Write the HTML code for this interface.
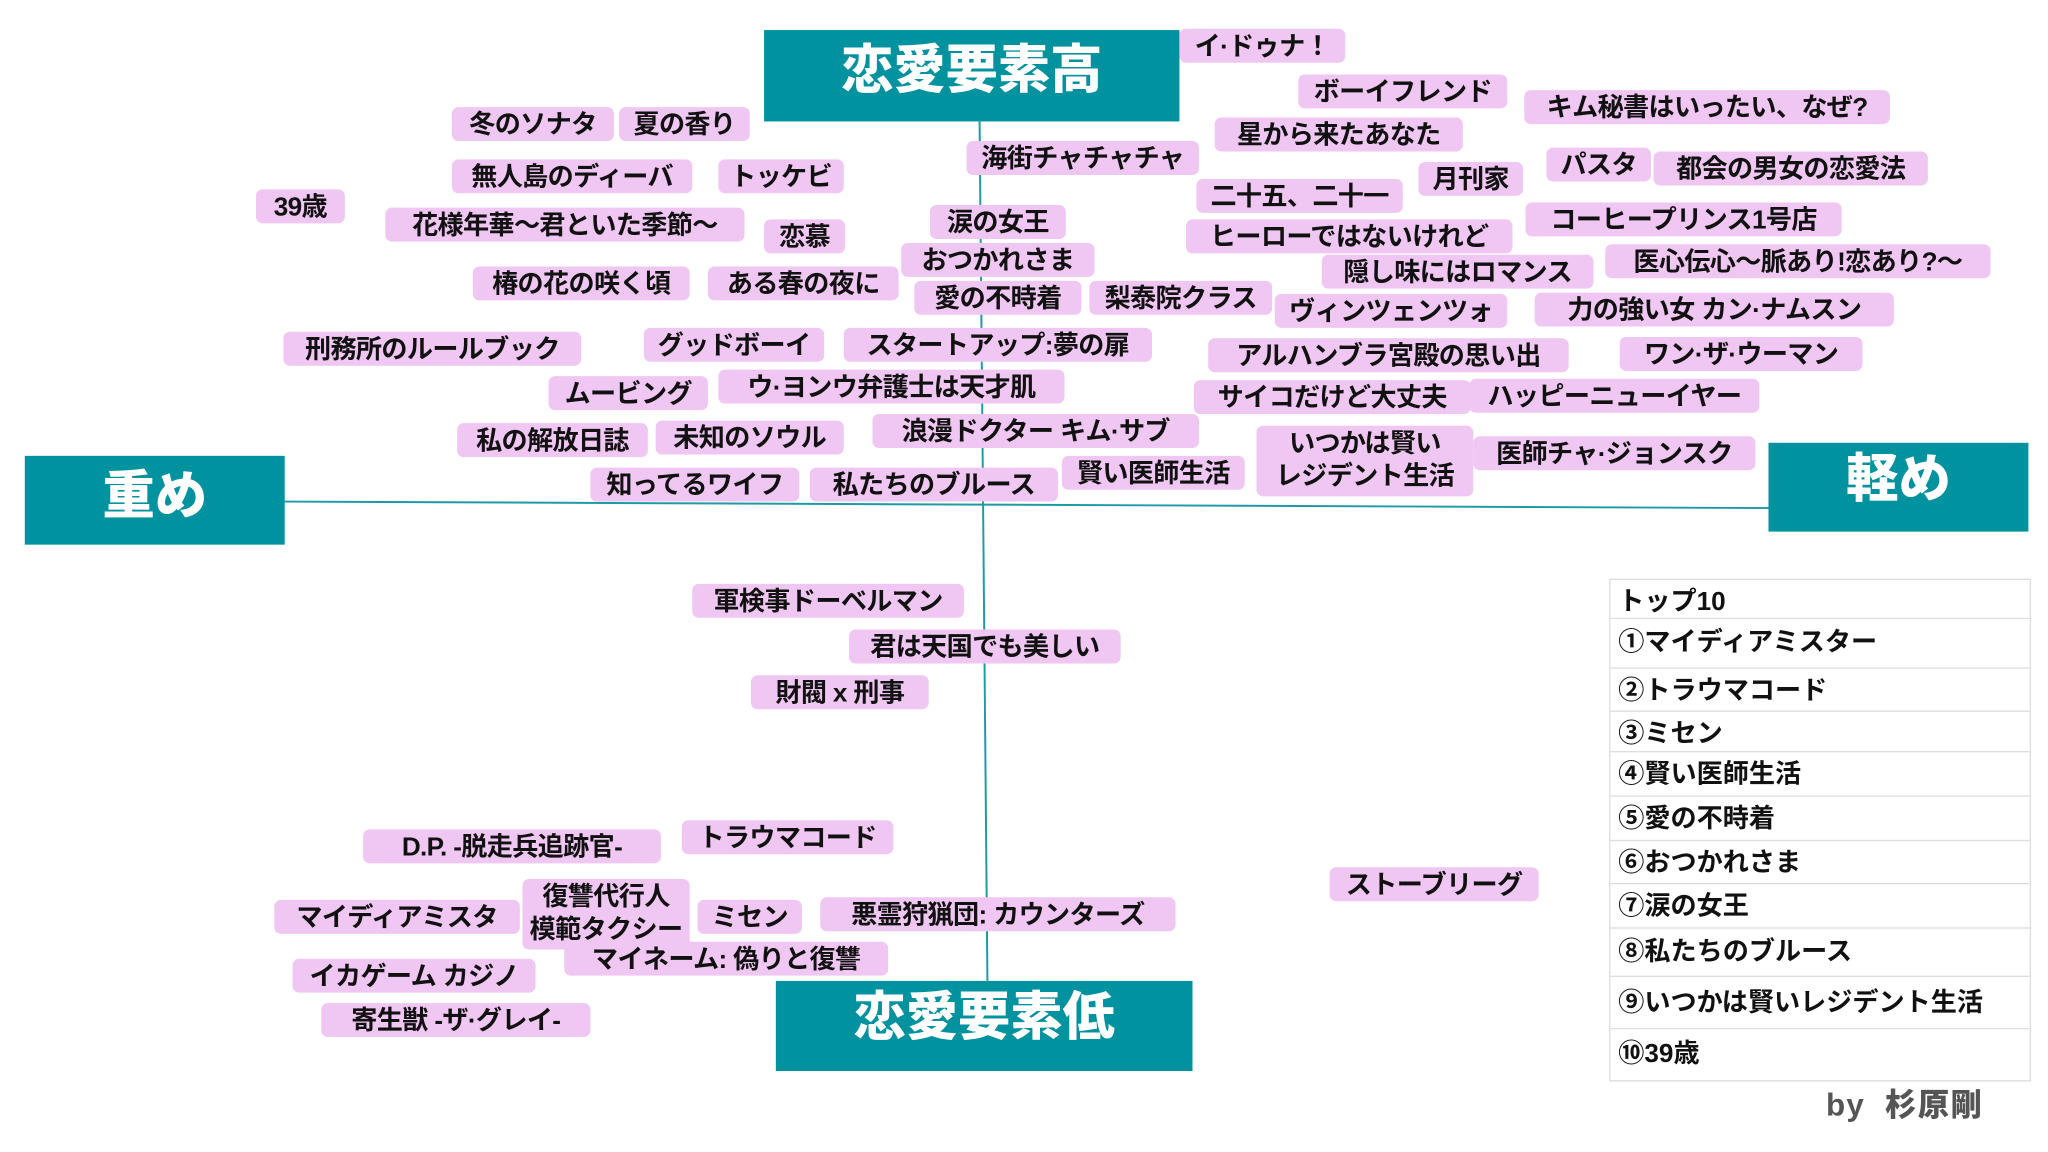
<!DOCTYPE html>
<html><head><meta charset="utf-8">
<style>
html,body{margin:0;padding:0;background:#fff;}
body{width:2048px;height:1152px;overflow:hidden;position:relative;}
#c{position:absolute;left:0;top:0;width:1568px;height:882px;transform:scale(1.30612);transform-origin:0 0;font-family:"Liberation Sans","Noto Sans CJK JP",sans-serif;font-weight:bold;}
.p{position:absolute;height:26px;line-height:28px;background:#f0c6f2;border-radius:5px;text-align:center;white-space:nowrap;font-size:20px;color:#111;letter-spacing:-0.5px;}
.p2{height:54px;line-height:25px;padding-top:2px;box-sizing:border-box;}
.t{position:absolute;background:#00929e;color:#fff;text-align:center;font-size:40px;font-weight:900;}
#tb{position:absolute;left:1232px;top:443px;width:323px;border:1px solid #ddd;box-sizing:border-box;}
#tb div{border-bottom:1px solid #ddd;font-size:20px;padding-left:6px;box-sizing:border-box;color:#111;white-space:nowrap;}
#tb div:last-child{border-bottom:none;}
</style></head><body><div id="c">
<svg width="1568" height="882" style="position:absolute;left:0;top:0">
<line x1="750" y1="93" x2="756" y2="751" stroke="#1d9aa6" stroke-width="1.5"/>
<line x1="218" y1="384" x2="1354" y2="389" stroke="#1d9aa6" stroke-width="1.5"/>
</svg>
<div class="t" style="left:585px;top:23px;width:318px;height:70px;line-height:62px;">恋愛要素高</div>
<div class="t" style="left:19px;top:349px;width:199px;height:68px;line-height:62px;">重め</div>
<div class="t" style="left:1354px;top:339px;width:199px;height:68px;line-height:56px;">軽め</div>
<div class="t" style="left:594px;top:751px;width:319px;height:69px;line-height:56px;">恋愛要素低</div>

<div class="p" style="left:903px;top:22px;width:127px">イ·ドゥナ！</div>
<div class="p" style="left:994px;top:57px;width:160px">ボーイフレンド</div>
<div class="p" style="left:1167px;top:69px;width:280px">キム秘書はいったい、なぜ?</div>
<div class="p" style="left:930px;top:90px;width:190px">星から来たあなた</div>
<div class="p" style="left:740px;top:108px;width:178px">海街チャチャチャ</div>
<div class="p" style="left:1184px;top:113px;width:80px">パスタ</div>
<div class="p" style="left:1266px;top:116px;width:210px">都会の男女の恋愛法</div>
<div class="p" style="left:1086px;top:124px;width:80px">月刊家</div>
<div class="p" style="left:916px;top:137px;width:158px">二十五、二十一</div>
<div class="p" style="left:346px;top:82px;width:124px">冬のソナタ</div>
<div class="p" style="left:474px;top:82px;width:100px">夏の香り</div>
<div class="p" style="left:346px;top:122px;width:184px">無人島のディーバ</div>
<div class="p" style="left:550px;top:122px;width:96px">トッケビ</div>
<div class="p" style="left:196px;top:145px;width:68px">39歳</div>
<div class="p" style="left:295px;top:159px;width:275px">花様年華～君といた季節～</div>
<div class="p" style="left:585px;top:168px;width:62px">恋慕</div>
<div class="p" style="left:712px;top:157px;width:104px">涙の女王</div>
<div class="p" style="left:1168px;top:155px;width:242px">コーヒープリンス1号店</div>
<div class="p" style="left:908px;top:168px;width:250px">ヒーローではないけれど</div>
<div class="p" style="left:690px;top:186px;width:148px">おつかれさま</div>
<div class="p" style="left:1229px;top:187px;width:295px">医心伝心～脈あり!恋あり?～</div>
<div class="p" style="left:1012px;top:195px;width:208px">隠し味にはロマンス</div>
<div class="p" style="left:362px;top:204px;width:166px">椿の花の咲く頃</div>
<div class="p" style="left:542px;top:204px;width:146px">ある春の夜に</div>
<div class="p" style="left:700px;top:215px;width:128px">愛の不時着</div>
<div class="p" style="left:834px;top:215px;width:140px">梨泰院クラス</div>
<div class="p" style="left:976px;top:225px;width:178px">ヴィンツェンツォ</div>
<div class="p" style="left:1175px;top:224px;width:275px">力の強い女 カン·ナムスン</div>
<div class="p" style="left:217px;top:254px;width:228px">刑務所のルールブック</div>
<div class="p" style="left:493px;top:251px;width:138px">グッドボーイ</div>
<div class="p" style="left:646px;top:251px;width:236px">スタートアップ:夢の扉</div>
<div class="p" style="left:925px;top:259px;width:276px">アルハンブラ宮殿の思い出</div>
<div class="p" style="left:1240px;top:258px;width:186px">ワン·ザ·ウーマン</div>
<div class="p" style="left:420px;top:288px;width:122px">ムービング</div>
<div class="p" style="left:550px;top:283px;width:265px">ウ·ヨンウ弁護士は天才肌</div>
<div class="p" style="left:914px;top:291px;width:212px">サイコだけど大丈夫</div>
<div class="p" style="left:1125px;top:290px;width:222px">ハッピーニューイヤー</div>
<div class="p" style="left:350px;top:324px;width:146px">私の解放日誌</div>
<div class="p" style="left:502px;top:322px;width:144px">未知のソウル</div>
<div class="p" style="left:668px;top:317px;width:250px">浪漫ドクター キム·サブ</div>
<div class="p p2" style="left:962px;top:326px;width:166px">いつかは賢い<br>レジデント生活</div>
<div class="p" style="left:1128px;top:334px;width:216px">医師チャ·ジョンスク</div>
<div class="p" style="left:813px;top:349px;width:140px">賢い医師生活</div>
<div class="p" style="left:452px;top:358px;width:160px">知ってるワイフ</div>
<div class="p" style="left:620px;top:358px;width:190px">私たちのブルース</div>

<div class="p" style="left:530px;top:447px;width:208px">軍検事ドーベルマン</div>
<div class="p" style="left:650px;top:482px;width:208px">君は天国でも美しい</div>
<div class="p" style="left:575px;top:517px;width:136px">財閥 x 刑事</div>
<div class="p" style="left:278px;top:635px;width:228px">D.P. -脱走兵追跡官-</div>
<div class="p" style="left:522px;top:628px;width:162px">トラウマコード</div>
<div class="p" style="left:1018px;top:664px;width:160px">ストーブリーグ</div>
<div class="p" style="left:210px;top:689px;width:188px">マイディアミスタ</div>
<div class="p p2" style="left:400px;top:673px;width:128px">復讐代行人<br>模範タクシー</div>
<div class="p" style="left:534px;top:689px;width:80px">ミセン</div>
<div class="p" style="left:628px;top:687px;width:272px">悪霊狩猟団: カウンターズ</div>
<div class="p" style="left:432px;top:721px;width:248px">マイネーム: 偽りと復讐</div>
<div class="p" style="left:224px;top:734px;width:186px">イカゲーム カジノ</div>
<div class="p" style="left:246px;top:768px;width:206px">寄生獣 -ザ·グレイ-</div>

<div id="tb">
<div style="height:30px;line-height:34px">トップ10</div>
<div style="height:38px;line-height:36px">①マイディアミスター</div>
<div style="height:33px;line-height:34px">②トラウマコード</div>
<div style="height:31px;line-height:34px">③ミセン</div>
<div style="height:34px;line-height:34px">④賢い医師生活</div>
<div style="height:34px;line-height:34px">⑤愛の不時着</div>
<div style="height:33px;line-height:34px">⑥おつかれさま</div>
<div style="height:34px;line-height:34px">⑦涙の女王</div>
<div style="height:37px;line-height:36px">⑧私たちのブルース</div>
<div style="height:40px;line-height:40px">⑨いつかは賢いレジデント生活</div>
<div style="height:39px;line-height:38px">⑩39歳</div>
</div>
<div style="position:absolute;left:1398px;top:826px;font-size:24px;color:#555;font-weight:900;white-space:nowrap;letter-spacing:1px">by &nbsp;杉原剛</div>
</div></body></html>
